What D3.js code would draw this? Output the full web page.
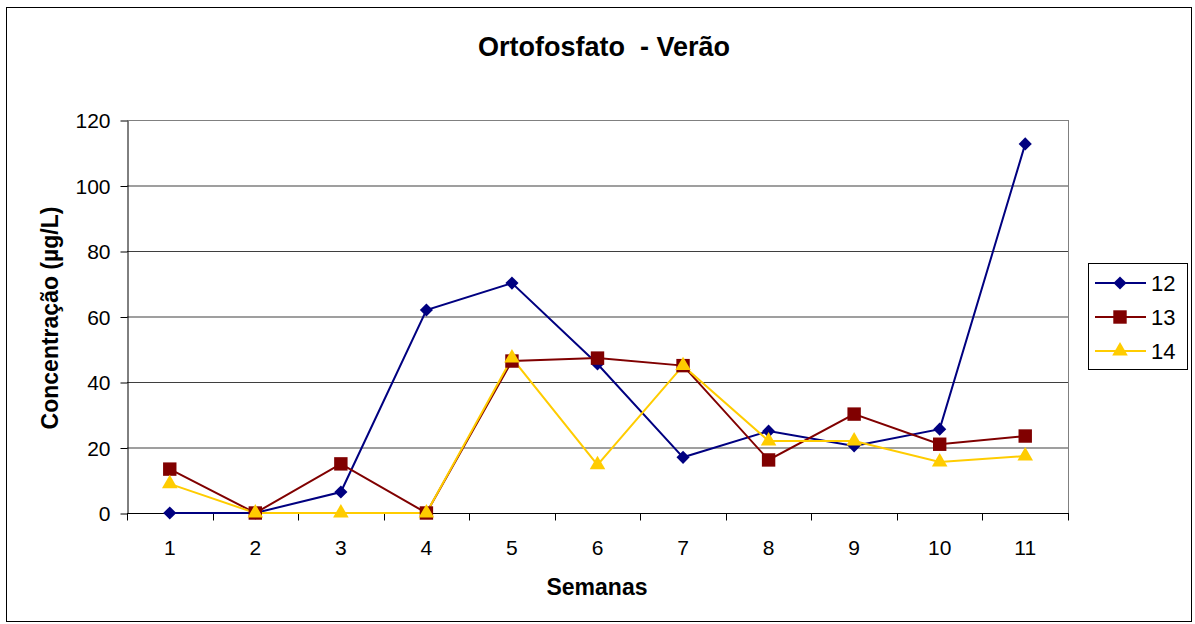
<html>
<head>
<script src="https://cdn.jsdelivr.net/npm/d3@7"></script>
<style>
body { margin: 0; background: white; }
* { font-family: Arial, "Liberation Sans", sans-serif; }
</style>
</head>
<body>
<svg width="1195" height="624"></svg>
<script>
var weeks = [1, 2, 3, 4, 5, 6, 7, 8, 9, 10, 11];
var s12 = [0, 0, 6.4, 62, 70.2, 45.5, 17, 25, 20.5, 25.6, 112.7];
var s13 = [13.4, 0, 15, 0, 46.4, 47.3, 45, 16.2, 30.2, 21, 23.5];
var s14 = [8.9, 0, 0, 0, 47.3, 14.7, 45, 22, 22, 15.6, 17.4];
var yTicks = [0, 20, 40, 60, 80, 100, 120];

var series = [
  { name: "12", values: s12, color: "#000080", shape: "diamond" },
  { name: "13", values: s13, color: "#800000", shape: "square" },
  { name: "14", values: s14, color: "#FFCC00", shape: "triangle" }
];

var svg = d3.select("svg");
var plotL = 127, plotT = 120, plotR = 1068, plotB = 513;

svg.append("rect").attr("x", 6.5).attr("y", 7.5).attr("width", 1185).attr("height", 614)
  .attr("fill", "white").attr("stroke", "black").attr("stroke-width", 1);

var x = d3.scaleBand().domain(weeks).range([plotL, plotR]);
var y = d3.scaleLinear().domain([0, 120]).range([plotB, plotT]);

// gridlines
svg.append("g").selectAll("line").data(yTicks.slice(1)).enter().append("line")
  .attr("x1", plotL).attr("x2", plotR)
  .attr("y1", function (d) { return y(d) + 0.5; }).attr("y2", function (d) { return y(d) + 0.5; })
  .attr("stroke", "#000").attr("stroke-width", 1).attr("opacity", 0.75);

// plot border
svg.append("line").attr("x1", plotR + 0.5).attr("x2", plotR + 0.5).attr("y1", plotT).attr("y2", plotB)
  .attr("stroke", "#808080");
svg.append("line").attr("x1", plotL).attr("x2", plotR).attr("y1", plotT + 0.5).attr("y2", plotT + 0.5)
  .attr("stroke", "#808080");

// y axis
var yAxis = svg.append("g").attr("transform", "translate(" + (plotL + 0.5) + ",0.5)")
  .call(d3.axisLeft(y).tickValues(yTicks).tickSize(7).tickSizeOuter(0).tickPadding(10));
yAxis.selectAll("text").style("font-size", "21px").attr("dy", "0.35em");

// x axis: ticks between categories
var xg = svg.append("g").attr("transform", "translate(0," + (plotB + 0.5) + ")");
xg.append("line").attr("x1", plotL).attr("x2", plotR + 1).attr("stroke", "black");
var bounds = weeks.map(function (d) { return x(d); }).concat([plotR]);
xg.selectAll("line.tk").data(bounds).enter().append("line").attr("class", "tk")
  .attr("x1", function (d) { return Math.round(d) + 0.5; }).attr("x2", function (d) { return Math.round(d) + 0.5; })
  .attr("y1", 0).attr("y2", 7).attr("stroke", "black");
xg.selectAll("text").data(weeks).enter().append("text")
  .attr("x", function (d) { return x(d) + x.bandwidth() / 2; })
  .attr("y", 41).attr("text-anchor", "middle").style("font-size", "21px").text(function (d) { return d; });
svg.selectAll(".domain").attr("stroke", "black");

var line = d3.line()
  .x(function (d, i) { return x(weeks[i]) + x.bandwidth() / 2; })
  .y(function (d) { return y(d); });

var symbols = {
  diamond: d3.symbol().type(d3.symbolDiamond2).size(110),
  square: d3.symbol().type(d3.symbolSquare).size(180),
  triangle: d3.symbol().type(d3.symbolTriangle).size(105)
};

series.forEach(function (s) {
  svg.append("path").datum(s.values).attr("d", line)
    .attr("fill", "none").attr("stroke", s.color).attr("stroke-width", 2);
});
series.forEach(function (s) {
  svg.append("g").selectAll("path").data(s.values).enter().append("path")
    .attr("d", symbols[s.shape])
    .attr("transform", function (d, i) { return "translate(" + (x(weeks[i]) + x.bandwidth() / 2) + "," + y(d) + ")"; })
    .attr("fill", s.color);
});

// title and labels
svg.append("text").attr("x", 604).attr("y", 56).attr("text-anchor", "middle")
  .style("font-size", "27px").style("font-weight", "bold").attr("xml:space", "preserve")
  .text("Ortofosfato  - Verão");
svg.append("text").attr("x", 597).attr("y", 595).attr("text-anchor", "middle")
  .style("font-size", "23px").style("font-weight", "bold").text("Semanas");
svg.append("text").attr("transform", "translate(58,318) rotate(-90)").attr("text-anchor", "middle")
  .style("font-size", "23px").style("font-weight", "bold").text("Concentração (µg/L)");

// legend
var lg = svg.append("g");
lg.append("rect").attr("x", 1088.5).attr("y", 263.5).attr("width", 99).attr("height", 106)
  .attr("fill", "white").attr("stroke", "black");
series.forEach(function (s, i) {
  var ly = 283 + i * 34;
  lg.append("line").attr("x1", 1095).attr("x2", 1146).attr("y1", ly).attr("y2", ly)
    .attr("stroke", s.color).attr("stroke-width", 2);
  lg.append("path").attr("d", symbols[s.shape]).attr("transform", "translate(1120," + ly + ")").attr("fill", s.color);
  lg.append("text").attr("x", 1151).attr("y", ly + 8).style("font-size", "22px").text(s.name);
});
</script>
</body>
</html>
